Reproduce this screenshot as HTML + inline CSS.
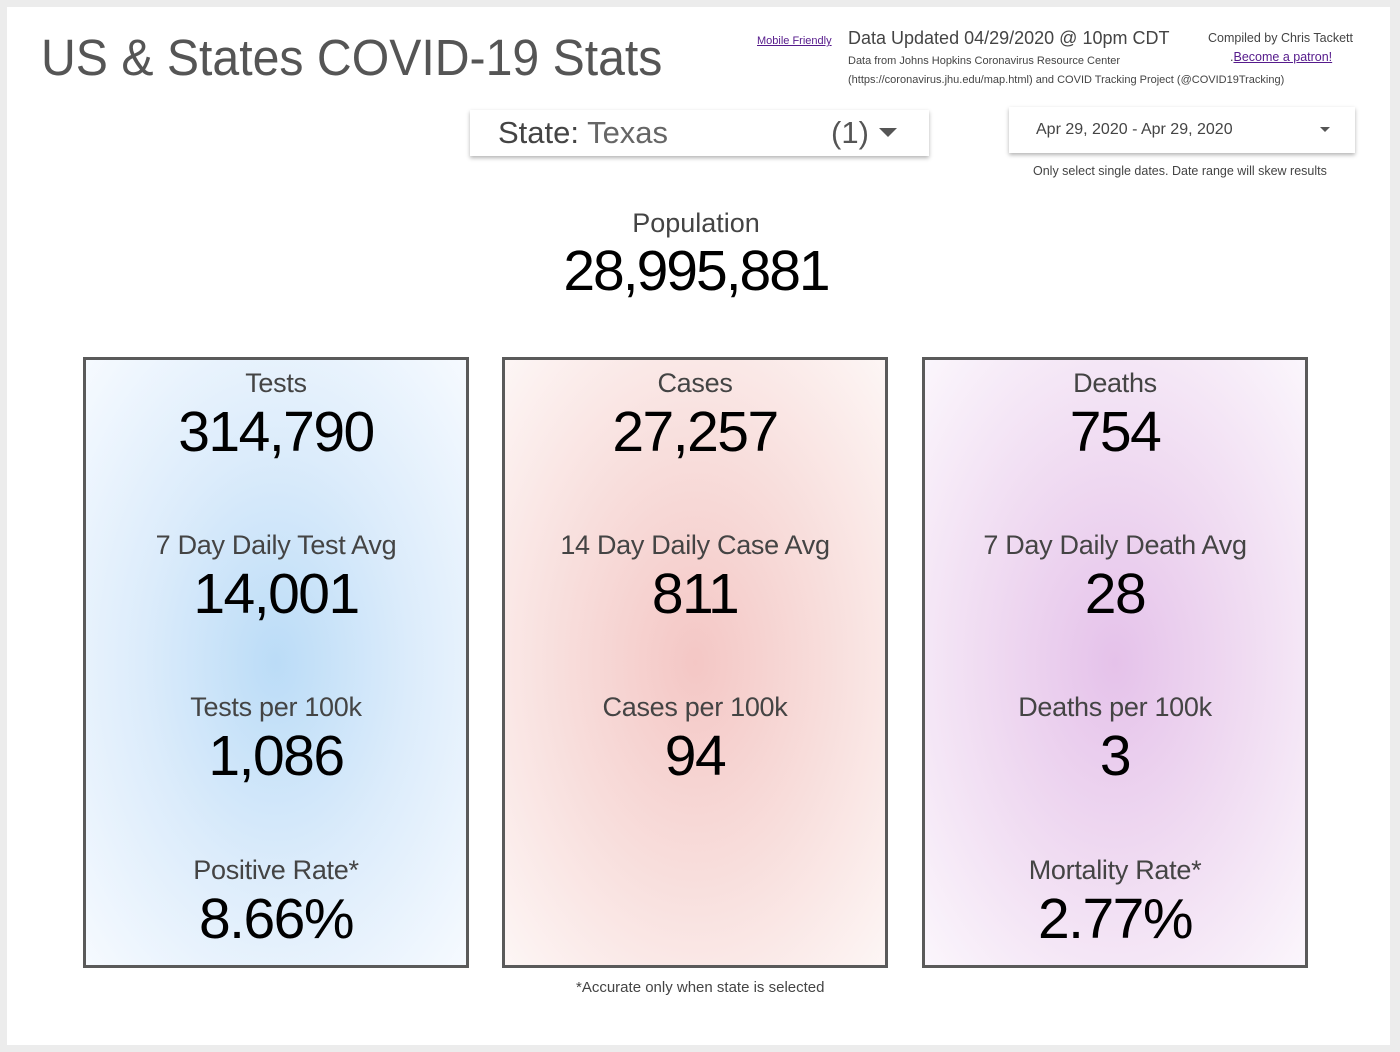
<!DOCTYPE html>
<html><head><meta charset="utf-8"><style>
body{margin:0;width:1400px;height:1052px;background:#ececec;font-family:"Liberation Sans",sans-serif;position:relative;overflow:hidden}
.page{position:absolute;left:7px;top:7px;width:1383px;height:1038px;background:#fff}
.a{position:absolute;white-space:nowrap}
.card{position:absolute;top:357px;width:380px;height:605px;border:3px solid #5a5a5a}
.lbl{position:absolute;left:0;right:0;text-align:center;font-size:27px;color:#444;letter-spacing:-0.3px}
.val{position:absolute;left:0;right:0;text-align:center;font-size:57px;color:#000;letter-spacing:-1.5px}
.dd{position:absolute;background:#fff;box-shadow:0 2px 4px rgba(0,0,0,.3)}
a{color:#551a8b;text-decoration:underline}
</style></head><body>
<div class="page"></div>
<div class="a" style="left:41px;top:28px;font-size:51px;color:#555;transform:scaleX(0.945);transform-origin:left">US &amp; States COVID-19 Stats</div>
<a class="a" style="left:757px;top:35px;font-size:11px">Mobile Friendly</a>
<div class="a" style="left:848px;top:28px;font-size:18px;color:#444">Data Updated 04/29/2020 @ 10pm CDT</div>
<div class="a" style="left:848px;top:52px;font-size:11px;color:#444;line-height:19px">Data from Johns Hopkins Coronavirus Resource Center<br>(https://coronavirus.jhu.edu/map.html) and COVID Tracking Project (@COVID19Tracking)</div>
<div class="a" style="left:1208px;top:31px;font-size:12.5px;color:#444">Compiled by Chris Tackett</div>
<div class="a" style="left:1230px;top:50px;font-size:12.5px;color:#444">.<a>Become a patron!</a></div>
<div class="dd" style="left:470px;top:110px;width:459px;height:46px">
<div class="a" style="left:28px;top:5px;font-size:31px;color:#444">State: <span style="color:#666">Texas</span></div>
<div class="a" style="left:361px;top:5px;font-size:31px;color:#555">(1)</div>
<div class="a" style="left:409px;top:18px;width:0;height:0;border-left:9px solid transparent;border-right:9px solid transparent;border-top:9px solid #555"></div>
</div>
<div class="dd" style="left:1009px;top:107px;width:346px;height:46px">
<div class="a" style="left:27px;top:14px;font-size:16px;color:#444">Apr 29, 2020 - Apr 29, 2020</div>
<div class="a" style="left:311px;top:20px;width:0;height:0;border-left:5px solid transparent;border-right:5px solid transparent;border-top:5px solid #555"></div>
</div>
<div class="a" style="left:1033px;top:164px;font-size:12.5px;color:#444">Only select single dates. Date range will skew results</div>
<div class="a" style="left:0;width:1392px;text-align:center;top:208px;font-size:27px;color:#444">Population</div>
<div class="a" style="left:0;width:1392px;text-align:center;top:238px;font-size:57px;color:#000;letter-spacing:-2px">28,995,881</div>

<div class="card" style="left:83px;background:radial-gradient(ellipse at 50% 50%,#bbdcf7 0%,#dcecfb 50%,#f6faff 100%)">
<div class="lbl" style="top:8px">Tests</div><div class="val" style="top:39px">314,790</div>
<div class="lbl" style="top:170px">7 Day Daily Test Avg</div><div class="val" style="top:201px">14,001</div>
<div class="lbl" style="top:332px">Tests per 100k</div><div class="val" style="top:363px">1,086</div>
<div class="lbl" style="top:495px">Positive Rate*</div><div class="val" style="top:526px">8.66%</div>
</div>
<div class="card" style="left:502px;background:radial-gradient(ellipse at 50% 50%,#f4c7c5 0%,#f8dedc 50%,#fdf6f5 100%)">
<div class="lbl" style="top:8px">Cases</div><div class="val" style="top:39px">27,257</div>
<div class="lbl" style="top:170px">14 Day Daily Case Avg</div><div class="val" style="top:201px">811</div>
<div class="lbl" style="top:332px">Cases per 100k</div><div class="val" style="top:363px">94</div>
</div>
<div class="card" style="left:922px;background:radial-gradient(ellipse at 50% 50%,#e5c2ea 0%,#f0dcf2 50%,#fbf6fc 100%)">
<div class="lbl" style="top:8px">Deaths</div><div class="val" style="top:39px">754</div>
<div class="lbl" style="top:170px">7 Day Daily Death Avg</div><div class="val" style="top:201px">28</div>
<div class="lbl" style="top:332px">Deaths per 100k</div><div class="val" style="top:363px">3</div>
<div class="lbl" style="top:495px">Mortality Rate*</div><div class="val" style="top:526px">2.77%</div>
</div>
<div class="a" style="left:576px;top:979px;font-size:15px;color:#444">*Accurate only when state is selected</div>
</body></html>
